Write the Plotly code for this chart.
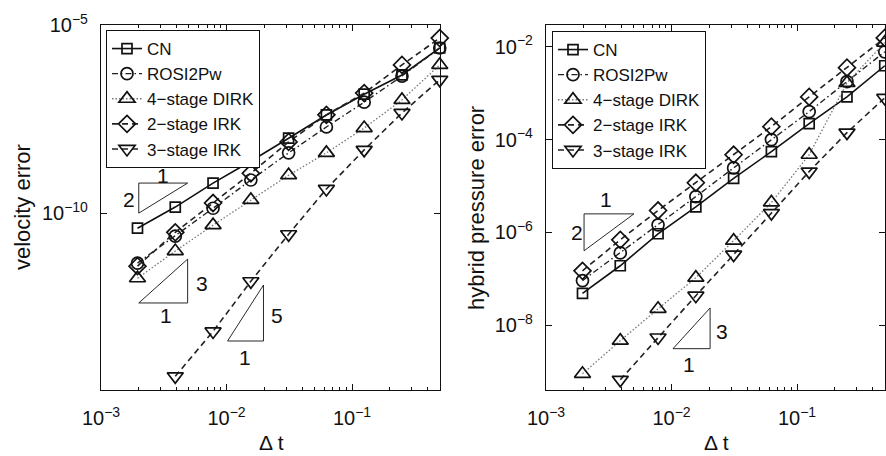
import numpy as np
import plotly.graph_objects as go

# ---------------- data ----------------
dt = [0.001953125, 0.00390625, 0.0078125, 0.015625, 0.03125, 0.0625, 0.125, 0.25, 0.5]
dt3 = dt[1:]

names = ["CN", "ROSI2Pw", "4\u2212stage DIRK", "2\u2212stage IRK", "3\u2212stage IRK"]

# velocity error (left)
vel_cn    = [3.98e-11, 1.45e-10, 6.3e-10, 2.4e-9, 9.8e-9, 4.07e-8, 1.45e-7, 4.7e-7, 2.45e-6]
vel_rosi  = [4.7e-12, 2.45e-11, 1.35e-10, 7.6e-10, 4.0e-9, 1.95e-8, 8.9e-8, 4.4e-7, 2.45e-6]
vel_dirk  = [1.86e-12, 9.8e-12, 4.8e-11, 2.24e-10, 1.02e-9, 4.0e-9, 1.82e-8, 1.02e-7, 8.7e-7]
vel_irk2  = [3.9e-12, 3.1e-11, 1.86e-10, 1.15e-9, 7.8e-9, 4.1e-8, 1.55e-7, 8.7e-7, 4.5e-6]
vel_irk3  = [4.6e-15, 7.2e-14, 1.55e-12, 2.75e-11, 4.4e-10, 4.8e-9, 4.6e-8, 3.5e-7]

# hybrid pressure error (right)
pr_cn    = [4.8e-8, 1.9e-7, 9.3e-7, 3.55e-6, 1.45e-5, 5.5e-5, 2.2e-4, 8.3e-4, 3.9e-3]
pr_rosi  = [9.1e-8, 3.6e-7, 1.45e-6, 5.9e-6, 2.45e-5, 1.0e-4, 4.0e-4, 1.78e-3, 7.8e-3]
pr_dirk  = [8.9e-10, 4.6e-9, 2.24e-8, 1.05e-7, 6.6e-7, 4.4e-6, 4.7e-5, 1.66e-3, 1.23e-2]
pr_irk2  = [1.48e-7, 6.9e-7, 2.95e-6, 1.17e-5, 4.7e-5, 1.9e-4, 8.3e-4, 3.55e-3, 1.55e-2]
pr_irk3  = [6.6e-10, 5.4e-9, 4.3e-8, 3.3e-7, 2.6e-6, 2.04e-5, 1.41e-4, 7.9e-4]

# tick labels
x_tickvals = [1e-3, 1e-2, 1e-1]
x_ticktext = ["10<sup>\u22123</sup>", "10<sup>\u22122</sup>", "10<sup>\u22121</sup>"]
yl_tickvals = [1e-10, 1e-5]
yl_ticktext = ["10<sup>\u221210</sup>", "10<sup>\u22125</sup>"]
yr_tickvals = [1e-8, 1e-6, 1e-4, 1e-2]
yr_ticktext = ["10<sup>\u22128</sup>", "10<sup>\u22126</sup>", "10<sup>\u22124</sup>", "10<sup>\u22122</sup>"]

# slope triangles (vertices) and labels
tri_v2_x = [0.002, 0.002, 0.0049, 0.002]
tri_v2_y = [1.0e-10, 6.3e-10, 6.3e-10, 1.0e-10]
tri_v3_x = [0.002, 0.0049, 0.0049, 0.002]
tri_v3_y = [4.1e-13, 4.1e-13, 6.0e-12, 4.1e-13]
tri_v5_x = [0.0102, 0.0197, 0.0197, 0.0102]
tri_v5_y = [4.0e-14, 4.0e-14, 1.23e-12, 4.0e-14]
lab_v_text = ["1", "2", "3", "1", "5", "1"]
lab_v_x = [0.0031, 0.00167, 0.00634, 0.00328, 0.0254, 0.01416]
lab_v_y = [1.0e-9, 2.35e-10, 1.38e-12, 1.95e-13, 1.95e-13, 1.48e-14]

tri_p2_x = [0.00201, 0.00201, 0.00502, 0.00201]
tri_p2_y = [4.0e-7, 2.5e-6, 2.5e-6, 4.0e-7]
tri_p3_x = [0.01028, 0.0203, 0.0203, 0.01028]
tri_p3_y = [3.1e-9, 3.1e-9, 2.34e-8, 3.1e-9]
lab_p_text = ["1", "2", "3", "1"]
lab_p_x = [0.0030, 0.001766, 0.0252, 0.01377]
lab_p_y = [5.0e-6, 9.8e-7, 7.2e-9, 1.41e-9]

# ---------------- styles ----------------
FONT = "Liberation Sans, Arial, Helvetica, sans-serif"
styles = [
    dict(symbol="square-open", size=10, dash="solid", lcolor="#111", lw=1.6),
    dict(symbol="circle-open", size=12, dash="6px,3px,1.5px,3px", lcolor="#222", lw=1.4),
    dict(symbol="triangle-up-open", size=14, dash="1.5px,2px", lcolor="#777", lw=1.3),
    dict(symbol="diamond-open", size=13, dash="6px,4px", lcolor="#222", lw=1.6),
    dict(symbol="triangle-down-open", size=14, dash="6px,4px", lcolor="#222", lw=1.6),
]

fig = go.Figure()

def add_series(xs, ys, i, xa, ya, leg):
    s = styles[i]
    fig.add_trace(go.Scatter(
        x=xs, y=ys, mode="lines+markers", name=names[i],
        xaxis=xa, yaxis=ya, legend=leg, cliponaxis=False,
        line=dict(color=s["lcolor"], dash=s["dash"], width=s["lw"]),
        marker=dict(symbol=s["symbol"], size=s["size"], color="#111",
                    line=dict(color="#111", width=1.7)),
    ))

left = [vel_cn, vel_rosi, vel_dirk, vel_irk2, vel_irk3]
right = [pr_cn, pr_rosi, pr_dirk, pr_irk2, pr_irk3]
for i, ys in enumerate(left):
    add_series(dt3 if i == 4 else dt, ys, i, "x", "y", "legend")
for i, ys in enumerate(right):
    add_series(dt3 if i == 4 else dt, ys, i, "x2", "y2", "legend2")

for tx, ty, xa, ya in [(tri_v2_x, tri_v2_y, "x", "y"), (tri_v3_x, tri_v3_y, "x", "y"),
                       (tri_v5_x, tri_v5_y, "x", "y"), (tri_p2_x, tri_p2_y, "x2", "y2"),
                       (tri_p3_x, tri_p3_y, "x2", "y2")]:
    fig.add_trace(go.Scatter(x=tx, y=ty, mode="lines", showlegend=False, xaxis=xa, yaxis=ya,
                             line=dict(color="#111", width=0.9), hoverinfo="skip"))

annotations = []
for t, x, y in zip(lab_v_text, lab_v_x, lab_v_y):
    annotations.append(dict(text=t, x=np.log10(x), y=np.log10(y), xref="x", yref="y",
                            xanchor="center", yanchor="middle",
                            showarrow=False, font=dict(size=21, family=FONT, color="#111")))
for t, x, y in zip(lab_p_text, lab_p_x, lab_p_y):
    annotations.append(dict(text=t, x=np.log10(x), y=np.log10(y), xref="x2", yref="y2",
                            xanchor="center", yanchor="middle",
                            showarrow=False, font=dict(size=21, family=FONT, color="#111")))

W, H = 886, 456
def px(v): return v / W
def py(v): return 1 - v / H

lab_font = dict(size=22, family=FONT, color="#111")
dt_font = dict(size=21, family=FONT, color="#111")
annotations += [
    dict(text="velocity error", x=px(22), y=py(207), xref="paper", yref="paper",
         xanchor="center", yanchor="middle", textangle=-90, showarrow=False, font=lab_font),
    dict(text="hybrid pressure error", x=px(476), y=py(208), xref="paper", yref="paper",
         xanchor="center", yanchor="middle", textangle=-90, showarrow=False, font=lab_font),
    dict(text="\u0394 t", x=px(271), y=py(442), xref="paper", yref="paper",
         xanchor="center", yanchor="middle", showarrow=False, font=dt_font),
    dict(text="\u0394 t", x=px(716), y=py(442), xref="paper", yref="paper",
         xanchor="center", yanchor="middle", showarrow=False, font=dt_font),
]

minor_x = [m * 10.0 ** e for e in (-3, -2, -1) for m in range(2, 10) if m * 10.0 ** e <= 0.5]
XR = [-3, np.log10(0.5) + 0.002]

def xaxis(domain, anchor):
    return dict(type="log", domain=domain, anchor=anchor, range=XR,
                tickmode="array", tickvals=x_tickvals, ticktext=x_ticktext, automargin=False,
                ticks="inside", ticklen=6, tickcolor="#111", showline=True, linecolor="#111",
                linewidth=1.2, mirror="allticks", showgrid=False, zeroline=False,
                tickfont=dict(size=20, family=FONT, color="#111"), ticklabelstandoff=10,
                minor=dict(tickvals=minor_x, ticks="inside", ticklen=3, tickcolor="#111",
                           showgrid=False))

def yaxis(domain, anchor, rng, tv, tt):
    return dict(type="log", domain=domain, anchor=anchor, range=rng,
                tickmode="array", tickvals=tv, ticktext=tt, automargin=False,
                ticks="inside", ticklen=6, tickcolor="#111",
                showline=True, linecolor="#111", linewidth=1.2, mirror="allticks",
                showgrid=False, zeroline=False, ticklabelstandoff=8,
                tickfont=dict(size=20, family=FONT, color="#111"))

ydom = [py(390), py(25)]
legend_common = dict(bgcolor="white", bordercolor="#111", borderwidth=1,
                     font=dict(size=17, family=FONT, color="#111"),
                     xanchor="left", yanchor="top", tracegroupgap=0, itemclick=False)

fig.update_layout(
    template="none",
    width=W, height=H, margin=dict(l=0, r=0, t=0, b=0, autoexpand=False),
    paper_bgcolor="white", plot_bgcolor="white",
    xaxis=xaxis([px(101), px(440)], "y"),
    yaxis=yaxis(ydom, "x", [-14.7, -5], yl_tickvals, yl_ticktext),
    xaxis2=xaxis([px(546), px(885)], "y2"),
    yaxis2=yaxis(ydom, "x2", [-9.4, -1.53], yr_tickvals, yr_ticktext),
    legend=dict(x=px(106), y=py(30), **legend_common),
    legend2=dict(x=px(552), y=py(31), **legend_common),
    annotations=annotations,
    showlegend=True,
)

fig.write_html("out.html")
